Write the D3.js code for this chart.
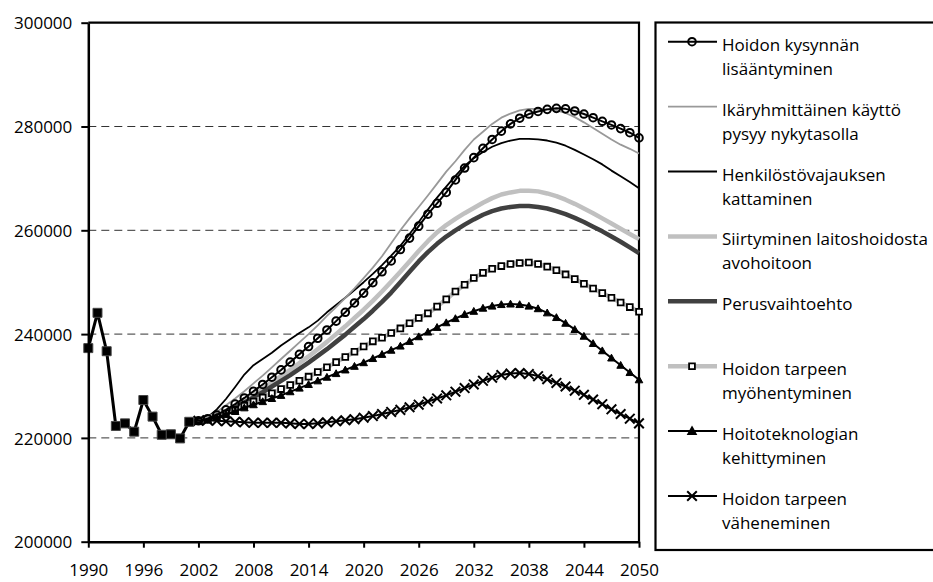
<!DOCTYPE html>
<html><head><meta charset="utf-8">
<script src="https://cdn.jsdelivr.net/npm/d3@7"></script>
<style>
body{margin:0;background:#fff;}
svg{display:block;font-family:"Open Sans",sans-serif;}
</style></head>
<body><svg id="c" width="933" height="582"></svg>
<script>
const histYears = d3.range(1990, 2002);
const historical = [237300, 244100, 236700, 222300, 222800, 221200, 227300, 224100, 220600, 220700, 219900, 223100];
const projYears = d3.range(2002, 2051);
const kysynta = [223300,223700,224400,225400,226500,227700,229000,230300,231700,233100,
  234600,236100,237600,239200,240800,242500,244200,246000,247900,249900,
  252000,254100,256300,258500,260800,263100,265200,267300,269700,272000,
  274000,275800,277500,279100,280500,281600,282400,282900,283300,283500,
  283400,283000,282400,281700,281000,280300,279600,278800,277800];
const ikaryhma = [223300,224000,225000,226300,227600,229000,230500,232000,233600,235200,
  236800,238400,240000,241700,243500,245200,247000,248800,250800,252800,
  255000,257500,260000,262300,264500,266700,269000,271300,273300,275500,
  277500,279000,280500,281700,282500,283100,283400,283400,283300,283100,
  282600,281800,280800,279700,278600,277500,276500,275700,274800];
const henkilosto = [223300,224000,225500,227500,229800,232200,234000,235200,236400,237800,
  239000,240200,241300,242600,244200,245600,247000,248500,250000,251600,
  253300,255100,257000,259300,261600,264000,266300,268400,270500,272400,
  273900,275100,276100,276800,277300,277600,277600,277500,277300,276900,
  276300,275500,274600,273700,272700,271500,270400,269300,268100];
const siirtyminen = [223300,223600,224300,225200,226200,227300,228400,229500,230700,231900,
  233100,234400,235700,237100,238500,240000,241500,243100,244700,246400,
  248200,250100,252000,254000,256000,257900,259600,261000,262200,263300,
  264300,265300,266200,266900,267300,267600,267600,267500,267100,266600,
  265900,265100,264200,263300,262300,261300,260300,259300,258300];
const perus = [223300,223500,224100,224900,225800,226800,227800,228800,229900,231000,
  232100,233300,234500,235800,237100,238500,239900,241400,242900,244500,
  246200,248000,250000,252000,254000,255800,257400,258800,260000,261100,
  262100,263000,263700,264200,264500,264700,264700,264500,264200,263700,
  263100,262400,261600,260700,259800,258800,257800,256700,255600];
const myohentyminen = [223300,223500,224000,224700,225400,226200,227000,227800,228600,229400,
  230200,231000,231800,232700,233600,234600,235600,236600,237600,238600,
  239300,240200,241100,242100,243100,244000,245300,246700,248200,249500,
  250800,251800,252600,253100,253500,253700,253800,253500,253000,252300,
  251500,250600,249700,248800,247900,247000,246100,245200,244300];
const teknologia = [223300,223500,223900,224500,225100,225800,226400,227000,227600,228200,
  228900,229600,230300,231000,231700,232400,233100,233800,234500,235300,
  236100,236900,237700,238600,239500,240400,241300,242200,243000,243800,
  244400,245000,245400,245700,245800,245700,245400,244900,244100,243200,
  242100,240900,239600,238200,236800,235400,234000,232600,231200];
const vaheneminen = [223300,223400,223300,223200,223100,223000,222900,222900,222900,222900,
  222800,222700,222700,222800,223000,223200,223400,223600,223900,224200,
  224600,225000,225400,225900,226400,227000,227600,228200,228900,229600,
  230300,231000,231600,232100,232400,232500,232300,231900,231300,230600,
  229900,229100,228300,227400,226500,225500,224600,223700,222800];
const yTicks = [200000, 220000, 240000, 260000, 280000, 300000];
const xTicks = d3.range(1990, 2051, 6);
const legendLabels = [
  ["Hoidon kysynnän", "lisääntyminen"],
  ["Ikäryhmittäinen käyttö", "pysyy nykytasolla"],
  ["Henkilöstövajauksen", "kattaminen"],
  ["Siirtyminen laitoshoidosta", "avohoitoon"],
  ["Perusvaihtoehto"],
  ["Hoidon tarpeen", "myöhentyminen"],
  ["Hoitoteknologian", "kehittyminen"],
  ["Hoidon tarpeen", "väheneminen"]
];

const series = [
  {key:"kysynta", data:kysynta, color:"#000", width:2, marker:"circle", leg:0},
  {key:"ikaryhma", data:ikaryhma, color:"#999", width:1.8, marker:null, leg:1},
  {key:"henkilosto", data:henkilosto, color:"#000", width:1.8, marker:null, leg:2},
  {key:"siirtyminen", data:siirtyminen, color:"#c0c0c0", width:4.5, marker:null, leg:3},
  {key:"perus", data:perus, color:"#404040", width:4.5, marker:null, leg:4},
  {key:"myohentyminen", data:myohentyminen, color:"#c0c0c0", width:4.5, marker:"square", leg:5},
  {key:"teknologia", data:teknologia, color:"#000", width:2, marker:"triangle", leg:6},
  {key:"vaheneminen", data:vaheneminen, color:"#000", width:2, marker:"cross", leg:7}
];
const drawOrder = ["siirtyminen","perus","myohentyminen","teknologia","vaheneminen","henkilosto","ikaryhma","kysynta"];

const svg = d3.select("#c");
const x = d3.scaleLinear().domain([1990, 2050]).range([88.3, 639]);
const y = d3.scaleLinear().domain([200000, 300000]).range([541.7, 22.7]);

// gridlines
svg.append("g").selectAll("line").data(yTicks.filter(d => d > 200000 && d < 300000)).join("line")
  .attr("x1", x(1990)).attr("x2", x(2050)).attr("y1", d => y(d)).attr("y2", d => y(d))
  .attr("stroke", "#333").attr("stroke-width", 1).attr("stroke-dasharray", "8,5");

// frame top/right
svg.append("path").attr("d", `M${x(1990)},${y(300000)}H${x(2050)}V${y(200000)}`)
  .attr("fill", "none").attr("stroke", "#000").attr("stroke-width", 2.2);

function markerPath(type, px, py) {
  if (type === "square") { const s = 2.9; return `M${px-s},${py-s}h${2*s}v${2*s}h${-2*s}Z`; }
  if (type === "triangle") { const s = 3.8; return `M${px},${py-s}L${px+s},${py+s*0.8}L${px-s},${py+s*0.8}Z`; }
  if (type === "cross") { const s = 4.8; return `M${px-s},${py-s}L${px+s},${py+s}M${px-s},${py+s}L${px+s},${py-s}`; }
  if (type === "bigsquare") { const s = 4.5; return `M${px-s},${py-s}h${2*s}v${2*s}h${-2*s}Z`; }
  return "";
}

const line = d3.line().x(d => x(d[0])).y(d => y(d[1]));
const byKey = Object.fromEntries(series.map(s => [s.key, s]));

function drawMarkers(g, type, pts) {
  if (type === "circle") {
    g.selectAll("circle").data(pts).join("circle")
      .attr("cx", d => x(d[0])).attr("cy", d => y(d[1])).attr("r", 3.8)
      .attr("fill", "none").attr("stroke", "#000").attr("stroke-width", 2);
  } else if (type) {
    g.selectAll("path.m").data(pts).join("path").attr("class", "m")
      .attr("d", d => markerPath(type, x(d[0]), y(d[1])))
      .attr("fill", type === "square" ? "#fff" : (type === "cross" ? "none" : "#000"))
      .attr("stroke", "#000").attr("stroke-width", type === "cross" ? 2 : (type === "square" ? 1.8 : 1));
  }
}

drawOrder.forEach(k => {
  const s = byKey[k];
  const pts = [[2001, historical[historical.length - 1]]].concat(projYears.map((yr, i) => [yr, s.data[i]]));
  const g = svg.append("g");
  g.append("path").attr("d", line(pts)).attr("fill", "none").attr("stroke", s.color)
    .attr("stroke-width", s.width).attr("stroke-linejoin", "round");
  drawMarkers(g, s.marker, pts.slice(1));
});

// historical
const hpts = histYears.map((yr, i) => [yr, historical[i]]);
const hg = svg.append("g");
hg.append("path").attr("d", line(hpts)).attr("fill", "none").attr("stroke", "#000").attr("stroke-width", 3);
hg.selectAll("path.m").data(hpts).join("path").attr("class", "m")
  .attr("d", d => markerPath("bigsquare", x(d[0]), y(d[1]))).attr("fill", "#000").attr("stroke", "#444").attr("stroke-width", 1);

// axes
const yAxis = svg.append("g").attr("transform", `translate(${x(1990)},0)`)
  .call(d3.axisLeft(y).tickValues(yTicks).tickSize(7).tickSizeOuter(0).tickFormat(d3.format("d")));
const xAxis = svg.append("g").attr("transform", `translate(0,${y(200000)})`)
  .call(d3.axisBottom(x).tickValues(xTicks).tickSize(6).tickSizeOuter(0).tickFormat(d => d));
[yAxis, xAxis].forEach(a => {
  a.select(".domain").attr("stroke", "#000").attr("stroke-width", 2.5);
  a.selectAll(".tick line").attr("stroke", "#000").attr("stroke-width", 2);
  a.selectAll("text").attr("fill", "#000").attr("font-size", 17).attr("font-family", "Open Sans");
});
yAxis.selectAll("text").attr("x", -16).attr("dy", "0.36em");
xAxis.selectAll("text").attr("y", 34.5).attr("dy", 0);

// legend
svg.append("rect").attr("x", 655.5).attr("y", 22.5).attr("width", 300).attr("height", 527.5)
  .attr("fill", "#fff").attr("stroke", "#000").attr("stroke-width", 2.2);
const lg = svg.append("g");
series.forEach((s, i) => {
  const ly = 41.7 + i * 64.9;
  const g = lg.append("g");
  g.append("line").attr("x1", 668).attr("x2", 717).attr("y1", ly).attr("y2", ly)
    .attr("stroke", s.color).attr("stroke-width", s.width);
  drawMarkersLegend(g, s.marker, 692, ly);
  const t = g.append("text").attr("x", 722).attr("y", ly + 9).attr("font-size", 17).attr("fill", "#000");
  legendLabels[s.leg].forEach((l, j) => t.append("tspan").attr("x", 722).attr("dy", j === 0 ? 0 : 24).text(l));
});
function drawMarkersLegend(g, type, px, py) {
  if (type === "circle") {
    g.append("circle").attr("cx", px).attr("cy", py).attr("r", 3.8).attr("fill", "none").attr("stroke", "#000").attr("stroke-width", 2);
  } else if (type) {
    g.append("path").attr("d", markerPath(type, px, py))
      .attr("fill", type === "square" ? "#fff" : (type === "cross" ? "none" : "#000"))
      .attr("stroke", "#000").attr("stroke-width", type === "cross" ? 2 : 1.8);
  }
}
</script></body></html>
